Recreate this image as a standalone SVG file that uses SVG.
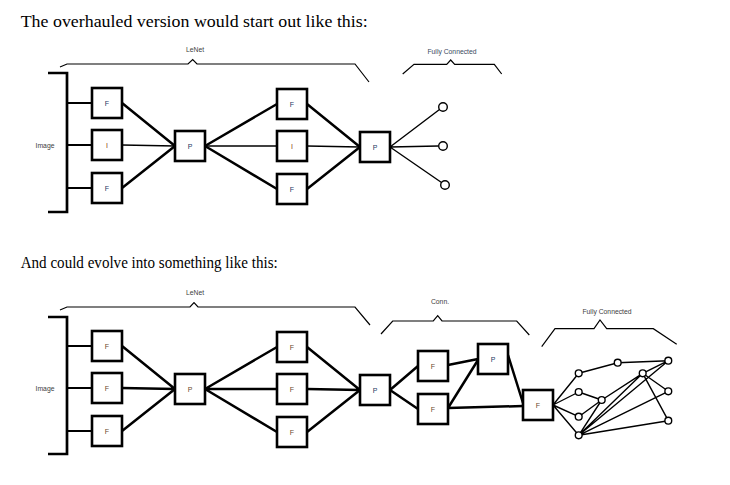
<svg xmlns="http://www.w3.org/2000/svg" width="730" height="485" viewBox="0 0 730 485">
<style>
.box{fill:#fff;stroke:#000;stroke-width:2.6}
.thick{stroke:#000;stroke-width:2.5;fill:none}
.mid{stroke:#000;stroke-width:2;fill:none}
.thin{stroke:#000;stroke-width:1.4;fill:none}
.brace{stroke:#000;stroke-width:1.2;fill:none;stroke-linejoin:miter}
.brk{stroke:#000;stroke-width:2.7;fill:none}
.lbl{font-family:"Liberation Sans",Arial,sans-serif;font-size:7px;text-anchor:middle;dominant-baseline:central}
.cap{font-family:"Liberation Sans",Arial,sans-serif;font-size:6.8px;fill:#404040;text-anchor:middle}
.title{font-family:"Liberation Serif","DejaVu Serif",serif;font-size:16.5px;fill:#000}
.nav{fill:#1f3864}
.brn{fill:#843c0c}
.bf{fill:#6b4a2a}
.circ{fill:#fff;stroke:#000;stroke-width:1.4}
</style>
<rect width="730" height="485" fill="#fff"/>
<text class="title" x="20.7" y="26.5" textLength="347" lengthAdjust="spacingAndGlyphs">The overhauled version would start out like this:</text>
<text class="title" x="20.7" y="267.5" textLength="257" lengthAdjust="spacingAndGlyphs">And could evolve into something like this:</text>

<g id="connectors">
  <!-- top diagram -->
  <path class="brk" d="M48,73 H67 V212 H48"/>
  <path class="mid" d="M67,103 H92 M67,145 H92 M67,188 H92"/>
  <path class="thick" d="M122,103 L175,146 M122,188 L175,146"/>
  <path class="thin" d="M122,145 L175,146"/>
  <path class="thick" d="M205,146 L277,104 M205,146 L277,189"/>
  <path class="thin" d="M205,146 L277,146"/>
  <path class="thick" d="M307,104 L360,147 M307,189 L360,147"/>
  <path class="thin" d="M307,146 L360,147"/>
  <path class="thin" d="M390,147 L439.5,109.5 M390,147 L438.5,146 M390,147 L441.5,182.5"/>
  <path class="brace" d="M60,67 L67,64 H188 L192.7,59.5 L197,64 H355 L369,82"/>
  <path class="brace" d="M402.7,74 L414,64.3 H446.7 L450.7,60 L454.7,64.3 H494.3 L501.7,74"/>
  <!-- bottom diagram -->
  <path class="brk" d="M48,317 H67 V454 H48"/>
  <path class="mid" d="M67,346 H92 M67,388 H92 M67,431 H92"/>
  <path class="thick" d="M122,346 L175,389 M122,388 L175,389 M122,431 L175,389"/>
  <path class="thick" d="M205,389 L277,347 M205,389 L277,389 M205,389 L277,432"/>
  <path class="thick" d="M307,347 L360,390 M307,389 L360,390 M307,432 L360,390"/>
  <path class="thick" d="M390,390 L418,366 M390,390 L418,409"/>
  <path class="thick" d="M448,365 L478,359 M448,408 L478,360 M448,408 L523,406 M508,355 L523,403"/>
  <path class="thin" d="M553,405 L578.7,373.3 M553,405 L578.7,392 M553,405 L578.7,416.7 M553,405 L578.7,435.3"/>
  <path class="thin" d="M578.7,373.3 L617.7,362.7 L668.3,360.7 M578.7,392 L601.7,400 M578.7,416.7 L601.7,400 M601.7,400 L642.7,373.3 M642.7,373.3 L668.3,360.7 M642.7,373.3 L668.3,391.3 M642.7,373.3 L668.3,420.7 M578.7,435.3 L601.7,400 M578.7,435.3 L642.7,373.3 M578.7,435.3 L668.3,360.7 M578.7,435.3 L668.3,391.3 M578.7,435.3 L668.3,420.7"/>
  <path class="brace" d="M60,310 L67,307 H190 L194,302.7 L198,307 H355 L370,325"/>
  <path class="brace" d="M381,334 L392.7,321 H433.3 L437.7,315.7 L442,321 H516.7 L529.3,335"/>
  <path class="brace" d="M541.7,346.7 L555,328.7 H594 L600,320 L606.7,328.7 H653.3 L676.7,344.3"/>
</g>

<g id="labels">
  <text class="cap" x="195" y="52">LeNet</text>
  <text class="cap" x="452" y="53.5" style="fill:#3a4a60">Fully Connected</text>
  <text class="cap" x="45" y="147.5">Image</text>
  <text class="cap" x="195" y="295">LeNet</text>
  <text class="cap" x="440" y="303.5">Conn.</text>
  <text class="cap" x="607" y="313.5">Fully Connected</text>
  <text class="cap" x="45" y="391">Image</text>
</g>

<!-- top nodes -->
<g id="t_f1"><rect class="box" x="92" y="88" width="30" height="30"/><text class="lbl nav" x="107" y="103">F</text></g>
<g id="t_i1"><rect class="box" x="92" y="130" width="30" height="30"/><text class="lbl brn" x="107" y="145">I</text></g>
<g id="t_f2"><rect class="box" x="92" y="173" width="30" height="30"/><text class="lbl nav" x="107" y="188">F</text></g>
<g id="t_p1"><rect class="box" x="175" y="131" width="30" height="30"/><text class="lbl nav" x="190" y="146">P</text></g>
<g id="t_f3"><rect class="box" x="277" y="89" width="30" height="30"/><text class="lbl nav" x="292" y="104">F</text></g>
<g id="t_i2"><rect class="box" x="277" y="131" width="30" height="30"/><text class="lbl brn" x="292" y="146">I</text></g>
<g id="t_f4"><rect class="box" x="277" y="174" width="30" height="30"/><text class="lbl nav" x="292" y="189">F</text></g>
<g id="t_p2"><rect class="box" x="360" y="132" width="30" height="30"/><text class="lbl nav" x="375" y="147">P</text></g>
<g id="t_o1"><circle class="circ" cx="443" cy="107" r="4.3"/></g>
<g id="t_o2"><circle class="circ" cx="443" cy="146" r="4.3"/></g>
<g id="t_o3"><circle class="circ" cx="445" cy="185" r="4.3"/></g>

<!-- bottom nodes -->
<g id="b_f1"><rect class="box" x="92" y="331" width="30" height="30"/><text class="lbl bf" x="107" y="346">F</text></g>
<g id="b_f2"><rect class="box" x="92" y="373" width="30" height="30"/><text class="lbl bf" x="107" y="388">F</text></g>
<g id="b_f3"><rect class="box" x="92" y="416" width="30" height="30"/><text class="lbl bf" x="107" y="431">F</text></g>
<g id="b_p1"><rect class="box" x="175" y="374" width="30" height="30"/><text class="lbl bf" x="190" y="389">P</text></g>
<g id="b_f4"><rect class="box" x="277" y="332" width="30" height="30"/><text class="lbl bf" x="292" y="347">F</text></g>
<g id="b_f5"><rect class="box" x="277" y="374" width="30" height="30"/><text class="lbl bf" x="292" y="389">F</text></g>
<g id="b_f6"><rect class="box" x="277" y="417" width="30" height="30"/><text class="lbl bf" x="292" y="432">F</text></g>
<g id="b_p2"><rect class="box" x="360" y="375" width="30" height="30"/><text class="lbl nav" x="375" y="390">P</text></g>
<g id="c_f1"><rect class="box" x="418" y="351" width="30" height="30"/><text class="lbl bf" x="433" y="366">F</text></g>
<g id="c_f2"><rect class="box" x="418" y="394" width="30" height="30"/><text class="lbl bf" x="433" y="409">F</text></g>
<g id="c_p"><rect class="box" x="478" y="344" width="30" height="30"/><text class="lbl nav" x="493" y="359">P</text></g>
<g id="c_f3"><rect class="box" x="523" y="390" width="30" height="30"/><text class="lbl bf" x="538" y="405">F</text></g>
<g id="n1"><circle class="circ" cx="578.7" cy="373.3" r="3.4"/></g>
<g id="n2"><circle class="circ" cx="578.7" cy="392" r="3.4"/></g>
<g id="n3"><circle class="circ" cx="578.7" cy="416.7" r="3.4"/></g>
<g id="n4"><circle class="circ" cx="578.7" cy="435.3" r="3.4"/></g>
<g id="n5"><circle class="circ" cx="601.7" cy="400" r="3.4"/></g>
<g id="n6"><circle class="circ" cx="617.7" cy="362.7" r="3.4"/></g>
<g id="n7"><circle class="circ" cx="642.7" cy="373.3" r="3.4"/></g>
<g id="n8"><circle class="circ" cx="668.3" cy="360.7" r="3.4"/></g>
<g id="n9"><circle class="circ" cx="668.3" cy="391.3" r="3.4"/></g>
<g id="n10"><circle class="circ" cx="668.3" cy="420.7" r="3.4"/></g>
</svg>
